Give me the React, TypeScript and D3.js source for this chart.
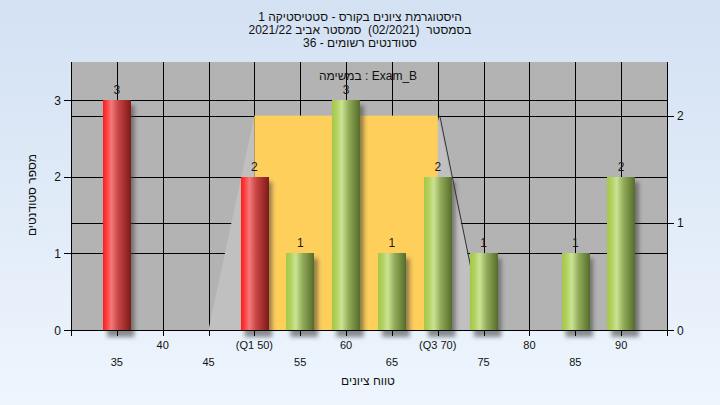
import React from "react";
import * as d3 from "d3";

const categories = [35, 40, 45, 50, 55, 60, 65, 70, 75, 80, 85, 90];
const xTickLabels = ["35", "40", "45", "(Q1 50)", "55", "60", "65", "(Q3 70)", "75", "80", "85", "90"];
const counts = [3, 0, 0, 2, 1, 3, 1, 2, 1, 0, 1, 2];
const barKinds = ["fail", "fail", "fail", "fail", "pass", "pass", "pass", "pass", "pass", "pass", "pass", "pass"];
const leftTicks = [0, 1, 2, 3];
const rightTicks = [0, 1, 2];
// box overlay: whisker low, Q1, Q3, whisker high, height (right axis)
const boxStats = { low: 45, q1: 50, q3: 70, high: 75, height: 2 };
const titleLines = [
  "היסטוגרמת ציונים בקורס - סטטיסטיקה 1",
  "בסמסטר  (02/2021)  סמסטר אביב 2021/22",
  "סטודנטים רשומים - 36",
];
const subtitle = "במשימה : Exam_B";
const xTitle = "טווח ציונים";
const yTitle = "מספר סטודנטים";

const W = 720, H = 405;
const L = 71, R = 667, T = 62, B = 330;
const FONT = "'Liberation Sans', Arial, sans-serif";

export default function App() {
  const x = d3.scaleLinear().domain([30, 95]).range([L, R]);
  const yL = d3.scaleLinear().domain([0, 3.5]).range([B, T]);
  const yR = d3.scaleLinear().domain([0, 2.5]).range([B, T]);
  const step = x(categories[1]) - x(categories[0]);
  const bw = step * 0.6;

  const boxTop = yR(boxStats.height);
  const leftTri = [[x(boxStats.low), B], [x(boxStats.q1), boxTop], [x(boxStats.q1), B]];
  const rightTri = [[x(boxStats.q3), boxTop], [x(boxStats.high), B], [x(boxStats.q3), B]];
  const poly = (pts: number[][]) => pts.map((p) => p.join(",")).join(" ");

  return (
    <svg width={W} height={H} style={{ position: "fixed", left: 0, top: 0 }} fontFamily={FONT}>
      <defs>
        <linearGradient id="bg" x1="0" y1="0" x2="0" y2="1">
          <stop offset="0%" stopColor="#d3e1f3" />
          <stop offset="100%" stopColor="#eef5fd" />
        </linearGradient>
        <linearGradient id="red" x1="0" y1="0" x2="1" y2="0">
          <stop offset="0%" stopColor="#ff1c1c" />
          <stop offset="12%" stopColor="#ff3a3a" />
          <stop offset="30%" stopColor="#f27a7a" />
          <stop offset="55%" stopColor="#c84444" />
          <stop offset="100%" stopColor="#7e1818" />
        </linearGradient>
        <linearGradient id="green" x1="0" y1="0" x2="1" y2="0">
          <stop offset="0%" stopColor="#a4c848" />
          <stop offset="15%" stopColor="#b0d05c" />
          <stop offset="35%" stopColor="#cae394" />
          <stop offset="60%" stopColor="#90aa58" />
          <stop offset="100%" stopColor="#556c2a" />
        </linearGradient>
        <filter id="blur" x="-50%" y="-50%" width="200%" height="200%">
          <feGaussianBlur stdDeviation="2" />
        </filter>
      </defs>
      <rect x={0} y={0} width={W} height={H} fill="url(#bg)" />

      {/* titles */}
      {titleLines.map((t, i) => (
        <text key={i} x={360} y={21 + i * 12.8} textAnchor="middle" fontSize={12} fill="#111" style={{ whiteSpace: "pre" }}>
          {t}
        </text>
      ))}

      {/* plot area */}
      <rect x={L} y={T} width={R - L} height={B - T} fill="#b3b3b3" />
      {/* grid */}
      {leftTicks.filter((v) => v > 0).map((v) => (
        <line key={"gl" + v} x1={L} x2={R} y1={Math.round(yL(v)) + 0.5} y2={Math.round(yL(v)) + 0.5} stroke="#000" />
      ))}
      {rightTicks.filter((v) => v > 0).map((v) => (
        <line key={"gr" + v} x1={L} x2={R} y1={Math.round(yR(v)) + 0.5} y2={Math.round(yR(v)) + 0.5} stroke="#000" />
      ))}
      {categories.map((c) => (
        <line key={"gv" + c} x1={Math.round(x(c)) + 0.5} x2={Math.round(x(c)) + 0.5} y1={T} y2={B} stroke="#000" />
      ))}

      {/* box overlay */}
      <polygon points={poly(leftTri)} fill="#c0c0c0" />
      <polygon points={poly(rightTri)} fill="#c0c0c0" />
      <line x1={x(boxStats.q3) + 2} y1={boxTop} x2={x(boxStats.high)} y2={B} stroke="#333" strokeWidth={1} />
      <rect x={x(boxStats.q1)} y={boxTop} width={x(boxStats.q3) - x(boxStats.q1)} height={B - boxTop} fill="#ffcf5c" />

      <text x={368} y={80} textAnchor="middle" fontSize={12} fill="#111">{subtitle}</text>

      {/* bar shadows */}
      {categories.map((c, i) =>
        counts[i] > 0 ? (
          <rect key={"s" + c} x={x(c) - bw / 2 + 4} y={yL(counts[i]) + 5} width={bw} height={B - yL(counts[i]) + 2} fill="#3a3a3a" opacity={0.55} filter="url(#blur)" />
        ) : null
      )}
      {/* bars */}
      {categories.map((c, i) =>
        counts[i] > 0 ? (
          <rect key={"b" + c} x={Math.round(x(c) - bw / 2)} y={Math.round(yL(counts[i]))} width={Math.round(bw)} height={B - Math.round(yL(counts[i]))} fill={barKinds[i] === "fail" ? "url(#red)" : "url(#green)"} />
        ) : null
      )}
      {categories.map((c, i) =>
        counts[i] > 0 ? (
          <text key={"v" + c} x={x(c)} y={yL(counts[i]) - 6} textAnchor="middle" fontSize={12} fill="#1a1a1a">{counts[i]}</text>
        ) : null
      )}

      {/* axes */}
      <line x1={L + 0.5} x2={L + 0.5} y1={T} y2={B + 6} stroke="#000" />
      <line x1={R + 0.5} x2={R + 0.5} y1={T} y2={B + 6} stroke="#000" />
      <line x1={L} x2={R + 1} y1={B + 0.5} y2={B + 0.5} stroke="#000" />
      {leftTicks.map((v) => (
        <g key={"lt" + v}>
          <line x1={L - 7} x2={L} y1={Math.round(yL(v)) + 0.5} y2={Math.round(yL(v)) + 0.5} stroke="#000" />
          <text x={61} y={yL(v) + 4.5} textAnchor="end" fontSize={12} fill="#111">{v}</text>
        </g>
      ))}
      {rightTicks.map((v) => (
        <g key={"rt" + v}>
          <line x1={R} x2={R + 7} y1={Math.round(yR(v)) + 0.5} y2={Math.round(yR(v)) + 0.5} stroke="#000" />
          <text x={677} y={yR(v) + 4.5} textAnchor="start" fontSize={12} fill="#111">{v}</text>
        </g>
      ))}
      {categories.map((c, i) => (
        <g key={"xt" + c}>
          <line x1={Math.round(x(c)) + 0.5} x2={Math.round(x(c)) + 0.5} y1={B} y2={B + 6} stroke="#000" />
          <text x={x(c)} y={i % 2 === 0 ? 366 : 349} textAnchor="middle" fontSize={11} fill="#111">{xTickLabels[i]}</text>
        </g>
      ))}

      <text x={368} y={385} textAnchor="middle" fontSize={12} fill="#111">{xTitle}</text>
      <text transform="translate(36,195) rotate(-90)" textAnchor="middle" fontSize={12} fill="#111">{yTitle}</text>
    </svg>
  );
}
